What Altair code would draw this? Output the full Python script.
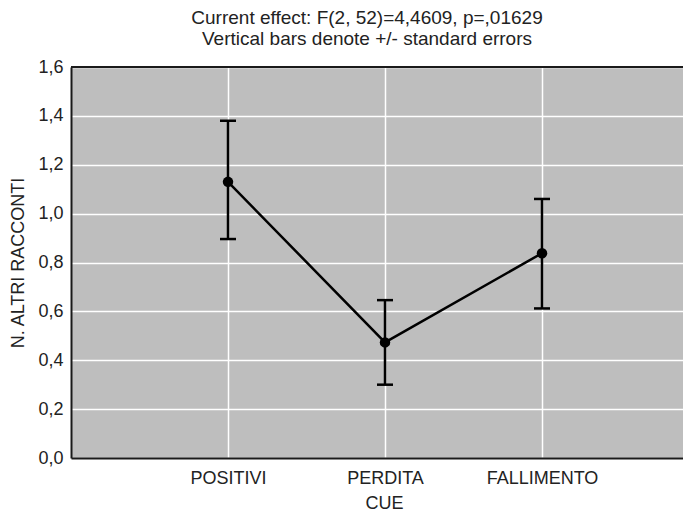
import altair as alt
import pandas as pd

cats = ["POSITIVI", "PERDITA", "FALLIMENTO"]
pos = [1, 2, 3]
means = [1.13, 0.473, 0.838]
upper = [1.38, 0.646, 1.06]
lower = [0.896, 0.30, 0.612]
y_ticks = [0, 0.2, 0.4, 0.6, 0.8, 1.0, 1.2, 1.4, 1.6]

df = pd.DataFrame({"cat": cats, "pos": pos, "mean": means, "upper": upper, "lower": lower})

FONT = "Liberation Sans"
W, H = 612, 391
FS = 18

label_expr = "datum.value == 1 ? 'POSITIVI' : datum.value == 2 ? 'PERDITA' : datum.value == 3 ? 'FALLIMENTO' : ''"

x = alt.X("pos:Q",
          scale=alt.Scale(domain=[0, W / 157.0], nice=False, zero=False),
          axis=alt.Axis(title="CUE", values=pos, labelExpr=label_expr,
                        grid=True, gridColor="white", gridWidth=1.5, gridOpacity=1,
                        domain=True, domainColor="#1a1a1a", domainWidth=2,
                        ticks=False, labelPadding=11, labelFont=FONT, labelFontSize=FS,
                        labelColor="#222", titleFont=FONT, titleFontSize=FS,
                        titleFontWeight="normal", titleColor="#222",
                        titleY=50, titleX=313, titleBaseline="alphabetic"))
y_scale = alt.Scale(domain=[0, 1.6], nice=False)
y_axis = alt.Axis(title="N. ALTRI RACCONTI", values=y_ticks,
                  labelExpr="replace(format(datum.value, '.1f'), '.', ',')",
                  grid=True, gridColor="white", gridWidth=1.5, gridOpacity=1,
                  domain=True, domainColor="#1a1a1a", domainWidth=2,
                  ticks=False, labelPadding=8, labelFont=FONT, labelFontSize=FS,
                  labelColor="#222", titleFont=FONT, titleFontSize=FS,
                  titleFontWeight="normal", titleColor="#222", titleX=-44)

base = alt.Chart(df)

line = base.mark_line(color="black", strokeWidth=2.5).encode(
    x=x, y=alt.Y("mean:Q", scale=y_scale, axis=y_axis))
bars = base.mark_rule(color="black", strokeWidth=2.5).encode(
    x="pos:Q", y="lower:Q", y2="upper:Q")
cap_hi = base.mark_tick(color="black", thickness=2.5, size=16, orient="horizontal", opacity=1).encode(
    x="pos:Q", y="upper:Q")
cap_lo = base.mark_tick(color="black", thickness=2.5, size=16, orient="horizontal", opacity=1).encode(
    x="pos:Q", y="lower:Q")
pts = base.mark_point(color="black", filled=True, size=110, opacity=1).encode(
    x="pos:Q", y="mean:Q")
top = alt.Chart(df).mark_rule(color="#1a1a1a", strokeWidth=2).encode(
    x=alt.value(0), x2=alt.value(W), y=alt.value(0))

chart = alt.layer(line, bars, cap_hi, cap_lo, pts, top).properties(
    width=W, height=H,
    title=alt.TitleParams(
        ["Current effect: F(2, 52)=4,4609, p=,01629", "Vertical bars denote +/- standard errors"],
        font=FONT, fontSize=19, fontWeight="normal", color="#222",
        anchor="middle", frame="group", dx=-10, offset=9, lineHeight=21),
    autosize=alt.AutoSizeParams(type="none"),
    padding={"left": 63, "top": 59, "right": 0, "bottom": 56},
).configure(background="white").configure_view(fill="#bebebe", stroke=None)

chart.save("out.html", embed_options={"renderer": "svg", "actions": False})
